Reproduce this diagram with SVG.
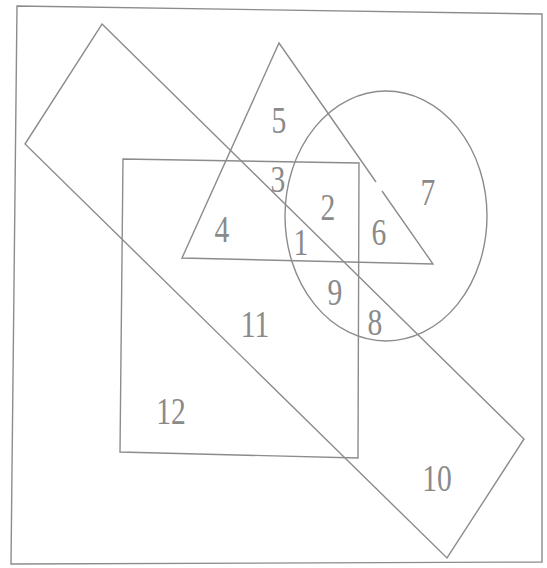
<svg xmlns="http://www.w3.org/2000/svg" width="547" height="568" viewBox="0 0 547 568">
<style>
.s{fill:none;stroke:#8c8c8c;stroke-width:1.4}
.t{font-family:"Liberation Serif","DejaVu Serif",serif;font-size:37px;fill:#8a8a8a;text-anchor:middle}
</style>
<rect x="0" y="0" width="547" height="568" fill="#ffffff"/>
<g id="frame"><polygon class="s" points="17,6 542,14 542,562 11,564"/></g>
<g id="band"><polygon class="s" points="102,24 524,439 447,558 25,144"/></g>
<g id="triangle"><path class="s" d="M376,182 L279,43 L182,258 L433,264 L382,191"/></g>
<g id="circle"><ellipse class="s" cx="386" cy="216" rx="101" ry="125"/></g>
<g id="square"><polygon class="s" points="123,159 359,163 358,458 120,452"/></g>
<g id="labels">
<text class="t" transform="translate(279,133) scale(0.8,1)">5</text>
<text class="t" transform="translate(278,192) scale(0.8,1)">3</text>
<text class="t" transform="translate(328,220) scale(0.8,1)">2</text>
<text class="t" transform="translate(428,205) scale(0.8,1)">7</text>
<text class="t" transform="translate(222,242) scale(0.8,1)">4</text>
<text class="t" transform="translate(301,255) scale(0.8,1)">1</text>
<text class="t" transform="translate(379,245) scale(0.8,1)">6</text>
<text class="t" transform="translate(335,305) scale(0.8,1)">9</text>
<text class="t" transform="translate(375,335) scale(0.8,1)">8</text>
<text class="t" transform="translate(255,337) scale(0.8,1)">11</text>
<text class="t" transform="translate(171,424) scale(0.8,1)">12</text>
<text class="t" transform="translate(437,491) scale(0.8,1)">10</text>
</g>
</svg>
